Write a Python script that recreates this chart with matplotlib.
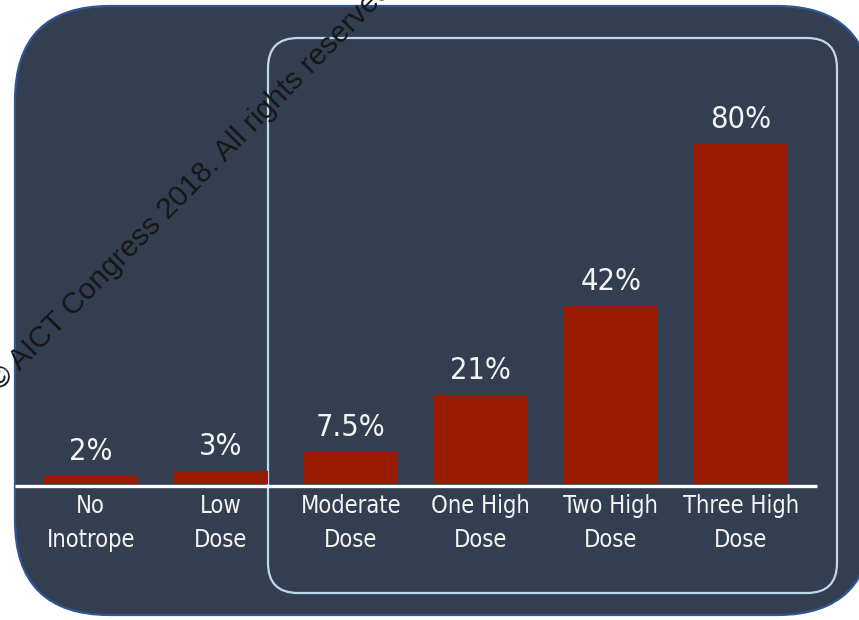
import matplotlib
matplotlib.use("Agg")
import matplotlib.pyplot as plt
from matplotlib.patches import FancyBboxPatch
from matplotlib import font_manager

# Inotrope dose groups and the share of patients with the outcome (%)
categories = ["No\nInotrope", "Low\nDose", "Moderate\nDose",
              "One High\nDose", "Two High\nDose", "Three High\nDose"]
values = [2, 3, 7.5, 21, 42, 80]

W, H = 859, 620
DPI = 100

names = {f.name for f in font_manager.fontManager.ttflist}
if "Liberation Sans Narrow" in names:
    LABEL_FONT = dict(family=["Liberation Sans Narrow", "DejaVu Sans"])
else:
    LABEL_FONT = dict(family=["DejaVu Sans"], stretch="condensed")

PANEL = "#333f50"
BAR = "#9b1a03"
TXT = "#f4f4f4"

fig = plt.figure(figsize=(W / DPI, H / DPI), dpi=DPI, facecolor="white")

# Background layer in pixel coordinates (origin at top-left)
bg = fig.add_axes([0, 0, 1, 1])
bg.set_xlim(0, W)
bg.set_ylim(H, 0)
bg.axis("off")

outer = FancyBboxPatch((15 + 95, 6 + 95), 872 - 15 - 190, 615 - 6 - 190,
                       boxstyle="round,pad=95", fc=PANEL, ec="#2f5597", lw=1.6)
bg.add_patch(outer)
inner = FancyBboxPatch((268 + 30, 38 + 30), 837 - 268 - 60, 593 - 38 - 60,
                       boxstyle="round,pad=30", fc="none", ec="#bdd7ee", lw=1.6)
bg.add_patch(inner)
bg.plot([15, 817], [486, 486], color="white", lw=2.4, solid_capstyle="butt")

# Data layer: bottom edge of the axes sits on the white baseline
step = 130.0
x0 = 90.8
px_per_unit = 4.25
base = H - 484
ax = fig.add_axes([0, base / H, 1, (H - base) / H])
ax.patch.set_visible(False)
ax.set_xlim(-x0 / step, (W - x0) / step)
ax.set_ylim(0, (H - base) / px_per_unit)
for s in ax.spines.values():
    s.set_visible(False)

xs = list(range(len(categories)))
ax.bar(xs, values, width=95 / step, color=BAR, zorder=2)

for x, v in zip(xs, values):
    ax.annotate(f"{v:g}%", (x, v), xytext=(0, 17.5), textcoords="offset points",
                ha="center", va="center", color=TXT, fontsize=22, **LABEL_FONT)

ax.set_xticks(xs)
ax.set_xticklabels(categories, color=TXT, fontsize=17, linespacing=1.55,
                   **LABEL_FONT)
ax.tick_params(axis="x", length=0, pad=7)
ax.set_yticks([])

# Copyright watermark
fig.text(0.0, 1 - 392 / H, "\u00a9 AICT Congress 2018. All rights reserved",
         rotation=45.5, rotation_mode="anchor", ha="left", va="baseline",
         fontsize=21.5, color="#161616", family=["Liberation Sans", "DejaVu Sans"],
         zorder=5)

fig.savefig("out.png", dpi=DPI, facecolor="white")
